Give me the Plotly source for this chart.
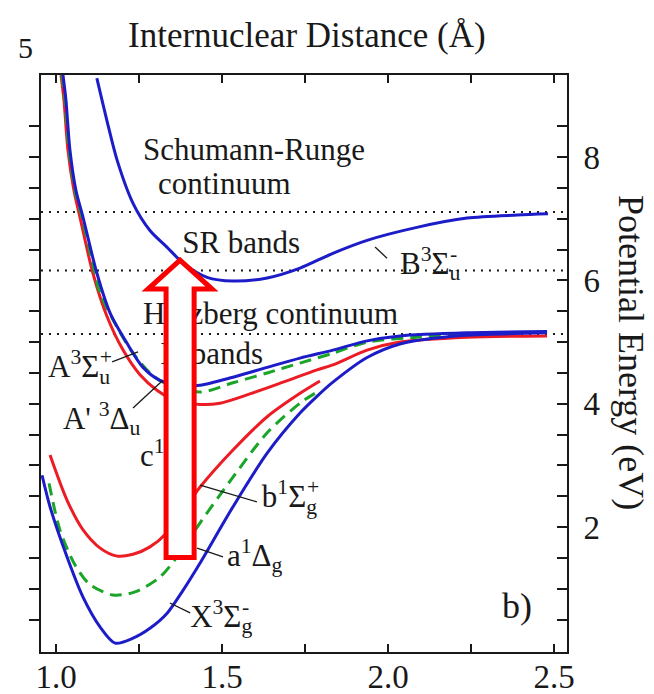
import plotly.graph_objects as go

# ---------------- data ----------------
# Internuclear distance (Angstrom) / potential energy (eV)
X_R = [0.958, 0.982, 1.033, 1.081, 1.133, 1.178, 1.232, 1.283, 1.334, 1.383, 1.434, 1.533, 1.636, 1.735, 1.786, 1.834, 1.937, 2.036, 2.187, 2.337, 2.479]
X_E = [2.84, 2.33, 1.52, 0.87, 0.38, 0.12, 0.20, 0.36, 0.60, 0.98, 1.42, 2.33, 3.20, 3.85, 4.12, 4.35, 4.75, 4.97, 5.09, 5.13, 5.15]

a_R = [0.979, 1.012, 1.057, 1.102, 1.172, 1.238, 1.313, 1.373, 1.434, 1.533, 1.636, 1.735, 1.786]
a_E = [2.71, 1.95, 1.39, 1.07, 0.90, 0.95, 1.19, 1.58, 2.07, 2.81, 3.53, 4.01, 4.19]

b_R = [0.982, 1.033, 1.081, 1.133, 1.184, 1.232, 1.283, 1.334, 1.434, 1.533, 1.636, 1.735, 1.795]
b_E = [3.17, 2.44, 1.96, 1.66, 1.53, 1.56, 1.68, 1.91, 2.65, 3.25, 3.79, 4.17, 4.37]

A_R = [1.021, 1.030, 1.042, 1.060, 1.081, 1.123, 1.163, 1.214, 1.262, 1.313, 1.373, 1.434, 1.533, 1.636, 1.735, 1.834, 1.937, 2.036, 2.238, 2.479]
A_E = [9.33, 8.92, 8.11, 7.46, 7.03, 6.12, 5.47, 4.98, 4.59, 4.38, 4.30, 4.30, 4.43, 4.59, 4.74, 4.87, 5.02, 5.10, 5.15, 5.17]

Ap_R = [1.018, 1.027, 1.039, 1.057, 1.078, 1.117, 1.133, 1.184, 1.232, 1.283, 1.322, 1.434, 1.533, 1.636, 1.735, 1.834, 1.937, 2.087, 2.238]
Ap_E = [9.33, 8.92, 8.11, 7.46, 7.03, 6.12, 5.79, 5.24, 4.82, 4.50, 4.35, 4.19, 4.34, 4.50, 4.66, 4.82, 5.00, 5.08, 5.13]

c_R = [1.015, 1.024, 1.036, 1.054, 1.072, 1.111, 1.154, 1.202, 1.253, 1.304, 1.358, 1.434, 1.494, 1.584, 1.684, 1.786, 1.834, 1.937, 2.036, 2.238, 2.479]
c_E = [9.33, 8.92, 8.11, 7.46, 7.03, 6.12, 5.41, 4.87, 4.47, 4.22, 4.06, 3.99, 4.01, 4.16, 4.35, 4.55, 4.63, 4.87, 5.00, 5.08, 5.10]

B_R = [1.123, 1.153, 1.184, 1.232, 1.283, 1.334, 1.383, 1.455, 1.533, 1.636, 1.735, 1.834, 1.937, 2.087, 2.238, 2.389, 2.482]
B_E = [9.28, 8.60, 7.95, 7.25, 6.81, 6.54, 6.28, 6.05, 5.99, 6.04, 6.20, 6.44, 6.65, 6.86, 7.01, 7.06, 7.08]

LIMIT_E = [5.13, 6.16, 7.11]          # dotted horizontal levels

X_TICKS = [1.0, 1.25, 1.5, 1.75, 2.0, 2.25, 2.5]
X_TICKTEXT = ["1.0", "", "1.5", "", "2.0", "", "2.5"]
Y_TICKS = [0.5 * i for i in range(1, 18)]
Y_TICKTEXT = [("%d" % v if v in (2, 4, 6, 8) else "") for v in Y_TICKS]

# state / region labels (the trailing superscript of each term symbol is
# stacked above its subscript, as in the figure)
LABEL_TEXT = ["Schumann-Runge", "continuum", "SR bands", "Herzberg continuum", "H bands",
              "A<sup>3</sup>Σ<sub>u</sub>", "<sup>+</sup>",
              "A' <sup>3</sup>Δ<sub>u</sub>",
              "c<sup>1</sup>Σ<sub>u</sub>", "<sup>-</sup>",
              "b<sup>1</sup>Σ<sub>g</sub>", "<sup>+</sup>",
              "a<sup>1</sup>Δ<sub>g</sub>",
              "X<sup>3</sup>Σ<sub>g</sub>", "<sup>-</sup>",
              "B<sup>3</sup>Σ<sub>u</sub>", "<sup>-</sup>",
              "b)"]
LABEL_R = [1.262, 1.307, 1.380, 1.262, 1.315,
           0.976, 1.132,
           1.021,
           1.253, 1.383,
           1.620, 1.756,
           1.515,
           1.404, 1.560,
           2.036, 2.187,
           2.343]
LABEL_E = [8.08, 7.52, 6.57, 5.42, 4.77,
           4.56, 4.56,
           3.72,
           3.12, 3.12,
           2.45, 2.45,
           1.50,
           0.51, 0.51,
           6.23, 6.23,
           0.68]
LABEL_SIZE = [31] * 17 + [36]

# leader lines (from label to curve)
LEADER_R = [[1.169, 1.247], [1.232, 1.322], [1.605, 1.434], [1.503, 1.425], [1.404, 1.343], [1.997, 1.961]]
LEADER_E = [[4.68, 4.84], [3.93, 4.38], [2.41, 2.68], [1.52, 1.66], [0.61, 0.77], [6.36, 6.54]]

# block arrow overlay (data coordinates)
ARROW_R = [1.3735, 1.470, 1.4160, 1.4160, 1.3315, 1.3315, 1.277]
ARROW_E = [6.33, 5.86, 5.86, 1.51, 1.51, 5.86, 5.86]

# ---------------- figure ----------------
X_RANGE = [0.9548, 2.5391]
Y_RANGE = [-0.024, 9.33]
FONT = "Liberation Serif"
BLUE = "rgb(28,28,200)"
RED = "rgb(236,28,36)"
GREEN = "rgb(26,165,40)"
INK = "rgb(25,25,25)"

fig = go.Figure()

for lvl in LIMIT_E:
    fig.add_trace(go.Scatter(x=X_RANGE, y=[lvl, lvl], mode="lines",
                             line=dict(color=INK, width=2, dash="2px,6px"),
                             hoverinfo="skip", showlegend=False))

def curve(r, e, color, dash="solid"):
    fig.add_trace(go.Scatter(x=r, y=e, mode="lines",
                             line=dict(color=color, width=3, dash=dash, shape="spline", smoothing=0.8),
                             hoverinfo="skip", showlegend=False))

curve(b_R, b_E, RED)
curve(c_R, c_E, RED)
curve(a_R, a_E, GREEN, "12px,7px")
curve(Ap_R, Ap_E, GREEN, "12px,7px")
curve(X_R, X_E, BLUE)
curve(A_R, A_E, BLUE)
curve(B_R, B_E, BLUE)

lx, ly = [], []
for r, e in zip(LEADER_R, LEADER_E):
    lx += r + [None]
    ly += e + [None]
fig.add_trace(go.Scatter(x=lx, y=ly, mode="lines", line=dict(color=INK, width=1.3),
                         hoverinfo="skip", showlegend=False))

fig.add_trace(go.Scatter(x=LABEL_R, y=LABEL_E, mode="text", text=LABEL_TEXT,
                         textposition="middle right",
                         textfont=dict(family=FONT, size=LABEL_SIZE, color=INK),
                         hoverinfo="skip", showlegend=False))

# dummy trace on the left (tick-only) axis
fig.add_trace(go.Scatter(x=[None], y=[None], yaxis="y2", showlegend=False, hoverinfo="skip"))

path = "M " + " L ".join("%g,%g" % (r, e) for r, e in zip(ARROW_R, ARROW_E)) + " Z"
fig.add_shape(type="path", path=path, xref="x", yref="y", layer="above",
              fillcolor="white", line=dict(color="rgb(250,0,0)", width=5))

fig.add_annotation(text="Internuclear Distance (Å)", xref="paper", yref="paper",
                   x=0.5057, y=1.0685, xanchor="center", yanchor="middle", showarrow=False,
                   font=dict(family=FONT, size=35, color=INK))
fig.add_annotation(text="Potential Energy (eV)", xref="paper", yref="paper",
                   x=1.1217, y=0.52, xanchor="center", yanchor="middle", showarrow=False,
                   textangle=90, font=dict(family=FONT, size=36, color=INK))
fig.add_annotation(text="5", xref="paper", yref="paper", x=-0.0304, y=1.0468,
                   xanchor="center", yanchor="middle", showarrow=False,
                   font=dict(family=FONT, size=30, color=INK))

fig.update_layout(
    width=654, height=694,
    margin=dict(l=41, r=87, t=75, b=42, autoexpand=False),
    paper_bgcolor="white", plot_bgcolor="white",
    font=dict(family=FONT, color=INK),
    xaxis=dict(range=X_RANGE, tickmode="array", tickvals=X_TICKS, ticktext=X_TICKTEXT,
               ticks="inside", ticklen=8, tickwidth=1.5, tickcolor=INK, automargin=False,
               showline=True, linewidth=2, linecolor=INK, mirror="ticks",
               showgrid=False, zeroline=False, ticklabelstandoff=-6,
               tickfont=dict(family=FONT, size=33, color=INK)),
    yaxis=dict(range=Y_RANGE, side="right", tickmode="array", tickvals=Y_TICKS, ticktext=Y_TICKTEXT,
               ticks="inside", ticklen=10, tickwidth=1.5, tickcolor=INK, automargin=False,
               showline=True, linewidth=2, linecolor=INK,
               showgrid=False, zeroline=False, ticklabelstandoff=8,
               tickfont=dict(family=FONT, size=33, color=INK)),
    yaxis2=dict(range=Y_RANGE, overlaying="y", side="left", anchor="x", tickmode="array",
                tickvals=Y_TICKS, ticks="outside", ticklen=10, tickwidth=1.5, tickcolor=INK,
                showticklabels=False, showline=True, linewidth=2, linecolor=INK, automargin=False,
                showgrid=False, zeroline=False),
)

fig.write_html("out.html")
